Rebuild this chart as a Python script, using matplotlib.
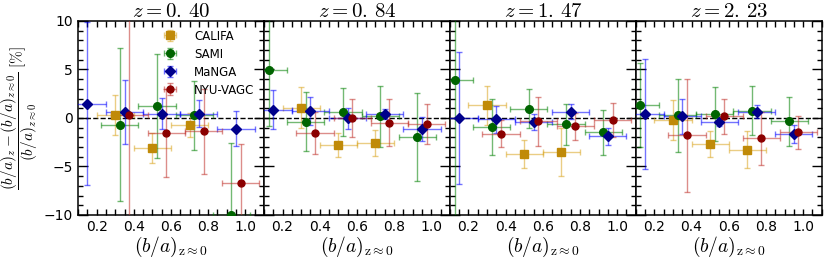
import numpy as np
import matplotlib
matplotlib.use('Agg')
import matplotlib.pyplot as plt
import matplotlib.colors as mcolors
from matplotlib.ticker import MultipleLocator, FormatStrFormatter

plt.rcParams['mathtext.fontset'] = 'cm'
plt.rcParams['font.size'] = 10

nan = np.nan
redshifts = ['0.\\,40', '0.\\,84', '1.\\,47', '2.\\,23']

# one row per redshift panel
califa_x = [0.30, 0.50, 0.70]
califa_y = [[0.3, -3.1, -0.7], [1.05, -2.8, -2.6], [1.3, -3.75, -3.5], [-0.25, -2.65, -3.3]]
califa_err = [[2.1, 1.5, 1.25], [2.1, 1.25, 1.35], [2.0, 1.45, 2.5], [2.05, 1.35, 1.9]]

sami_x = [0.125, 0.325, 0.525, 0.725, 0.925]
sami_y = [[nan, -0.7, 1.2, 0.25, -10.0], [4.95, -0.4, 0.6, 0.15, -2.0],
          [3.9, -0.95, 0.95, -0.65, -1.5], [1.35, 0.25, 0.4, 0.75, -0.35]]
sami_err = [[nan, 7.9, 5.35, 3.6, 7.4], [5.8, 3.05, 2.45, 3.1, 4.55],
            [14.0, 2.9, 2.0, 2.1, 2.35], [4.3, 3.75, 2.8, 2.55, 2.5]]

manga_x = [0.15, 0.35, 0.55, 0.75, 0.95]
manga_y = [[1.45, 0.65, 0.45, 0.45, -1.1], [0.85, 0.75, -0.05, 0.4, -1.15],
           [0.0, -0.15, -0.4, 0.65, -1.9], [0.4, 0.15, -0.4, 0.65, -1.65]]
manga_err = [[8.4, 3.3, 1.6, 1.4, 1.8], [2.0, 1.45, 1.1, 0.5, 1.2],
             [6.8, 1.4, 0.85, 0.8, 0.85], [5.7, 1.8, 0.4, 0.65, 0.95]]

nyu_x = [0.375, 0.575, 0.775, 0.975]
nyu_y = [[0.35, -1.55, -1.4, -6.75], [-1.55, 0.0, -0.5, -0.6],
         [-1.65, -0.35, -0.85, -0.25], [-1.8, 0.15, -2.1, -1.5]]
nyu_err = [[12.0, 4.5, 4.4, 4.1], [2.2, 2.0, 2.4, 2.05],
           [1.4, 2.5, 1.4, 1.75], [5.85, 1.8, 2.75, 1.7]]

bin_halfwidth = 0.1

surveys = [
    ('CALIFA', califa_x, califa_y, califa_err, 's', '#c08a08', 'goldenrod', 5.5),
    ('SAMI', sami_x, sami_y, sami_err, 'o', 'darkgreen', 'green', 5.5),
    ('MaNGA', manga_x, manga_y, manga_err, 'D', 'darkblue', 'blue', 5),
    ('NYU-VAGC', nyu_x, nyu_y, nyu_err, 'o', 'darkred', '#c0302a', 5),
]

fig, axes = plt.subplots(1, 4, figsize=(8.3, 2.58), dpi=100, sharey=True)
fig.subplots_adjust(left=0.094, right=0.990, bottom=0.167, top=0.919, wspace=0)

for i, ax in enumerate(axes):
    ax.axhline(0, color='k', ls='--', lw=1.0, zorder=1)
    for name, xs, ys, errs, mk, mc, ec, ms in surveys:
        ax.errorbar(xs, ys[i], yerr=errs[i], xerr=bin_halfwidth, fmt=mk, mfc=mc, mec=mc,
                    ms=ms, ecolor=mcolors.to_rgba(ec, 0.55), elinewidth=1.0,
                    capsize=2, capthick=1.0, label=name, zorder=3)
    ax.set_xlim(0.1, 1.1)
    ax.set_ylim(-10, 10)
    ax.xaxis.set_minor_locator(MultipleLocator(0.05))
    ax.xaxis.set_major_formatter(FormatStrFormatter('%.1f'))
    ax.yaxis.set_major_locator(MultipleLocator(5))
    ax.yaxis.set_minor_locator(MultipleLocator(1))
    ax.tick_params(which='both', direction='in', top=True, right=True, labelsize=10)
    ax.tick_params(axis='x', which='both', length=4, width=1)
    ax.tick_params(axis='y', which='major', length=7, width=1)
    ax.tick_params(axis='y', which='minor', length=3.5, width=1)
    for sp in ax.spines.values():
        sp.set_linewidth(1.1)
    ax.set_title(r'$z=%s$' % redshifts[i], fontsize=15, pad=2)
    ax.set_xlabel(r'$(b/a)_{\rm z\approx0}$', fontsize=14, labelpad=1)
    ax.set_xticks([0.2, 0.4, 0.6, 0.8, 1.0])

axes[0].set_ylabel(r'$\dfrac{(b/a)_z-(b/a)_{z\approx0}}{(b/a)_{z\approx0}}\ [\%]$',
                   fontsize=11, labelpad=3)
axes[0].legend(loc='upper left', bbox_to_anchor=(0.465, 0.955), frameon=False, numpoints=1,
               fontsize=8.5, handlelength=1.0, handletextpad=1.5, labelspacing=0.42,
               borderaxespad=0, borderpad=0)

fig.savefig('out.png', dpi=100)
